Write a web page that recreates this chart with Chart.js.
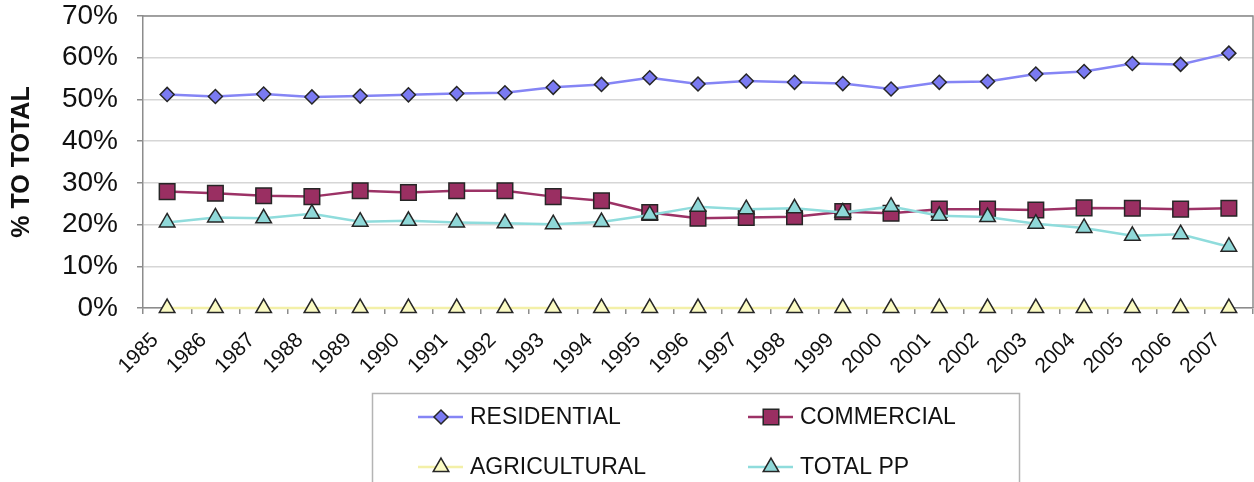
<!DOCTYPE html>
<html><head><meta charset="utf-8">
<script src="https://cdn.jsdelivr.net/npm/chart.js@4.4.1/dist/chart.umd.min.js"></script>
<style>html,body{margin:0;padding:0;background:#fff;overflow:hidden}#wrap{width:1254px;height:482px}</style>
</head><body><div id="wrap"><canvas id="c" width="1254" height="482"></canvas></div>
<script>
const years = ['1985','1986','1987','1988','1989','1990','1991','1992','1993','1994','1995','1996','1997','1998','1999','2000','2001','2002','2003','2004','2005','2006','2007'];
const residential = [51.2, 50.7, 51.3, 50.6, 50.8, 51.1, 51.4, 51.6, 52.9, 53.6, 55.2, 53.7, 54.4, 54.1, 53.8, 52.5, 54.1, 54.3, 56.1, 56.7, 58.6, 58.4, 61.1];
const commercial = [27.9, 27.5, 26.9, 26.7, 28.1, 27.7, 28.1, 28.1, 26.7, 25.7, 22.9, 21.5, 21.7, 21.9, 23.1, 22.7, 23.7, 23.7, 23.5, 24.0, 23.9, 23.7, 23.9];
const agricultural = [0, 0, 0, 0, 0, 0, 0, 0, 0, 0, 0, 0, 0, 0, 0, 0, 0, 0, 0, 0, 0, 0, 0];
const totalPP = [20.5, 21.7, 21.5, 22.6, 20.7, 20.9, 20.5, 20.3, 20.1, 20.6, 22.3, 24.3, 23.7, 23.9, 22.9, 24.3, 22.1, 21.8, 20.2, 19.2, 17.3, 17.7, 14.7];
const seriesNames = ['RESIDENTIAL', 'COMMERCIAL', 'AGRICULTURAL', 'TOTAL PP'];
const yAxisTitle = '% TO TOTAL';

const FONT = "'Liberation Sans', Arial, Helvetica, sans-serif";

const frame = {
  id: 'frame',
  beforeDatasetsDraw(chart) {
    const a = chart.chartArea, ctx = chart.ctx;
    ctx.save();
    ctx.strokeStyle = '#8c8c8c';
    ctx.lineWidth = 1.5;
    ctx.beginPath();
    ctx.moveTo(a.left, a.top);
    ctx.lineTo(a.right, a.top);
    ctx.lineTo(a.right, a.bottom);
    ctx.stroke();
    ctx.restore();
  }
};

function marker(ctx, ds, x, y) {
  ctx.save();
  ctx.fillStyle = ds.pointBackgroundColor;
  ctx.strokeStyle = ds.pointBorderColor;
  ctx.lineWidth = ds.pointBorderWidth;
  const opts = {pointStyle: ds.pointStyle, radius: ds.pointRadius, rotation: 0, borderWidth: ds.pointBorderWidth};
  if (Chart.helpers && Chart.helpers.drawPoint) {
    Chart.helpers.drawPoint(ctx, opts, x, y);
  } else {
    const r = ds.pointRadius;
    ctx.beginPath();
    if (ds.pointStyle === 'rectRot') { ctx.moveTo(x - r, y); ctx.lineTo(x, y - r); ctx.lineTo(x + r, y); ctx.lineTo(x, y + r); }
    else if (ds.pointStyle === 'rect') { const s = r * Math.SQRT1_2; ctx.rect(x - s, y - s, 2 * s, 2 * s); }
    else { ctx.moveTo(x, y - r); ctx.lineTo(x + r * 0.866, y + r / 2); ctx.lineTo(x - r * 0.866, y + r / 2); }
    ctx.closePath(); ctx.fill(); ctx.stroke();
  }
  ctx.restore();
}

const boxLegend = {
  id: 'boxLegend',
  afterDraw(chart) {
    const ctx = chart.ctx;
    ctx.save();
    ctx.strokeStyle = '#b4b4b4';
    ctx.lineWidth = 1.5;
    ctx.strokeRect(372.5, 393.5, 647, 110);
    const cols = [418, 748];
    const rows = [417, 467];
    chart.data.datasets.forEach((ds, i) => {
      const x0 = cols[i % 2], y = rows[Math.floor(i / 2)];
      ctx.strokeStyle = ds.borderColor;
      ctx.lineWidth = ds.borderWidth;
      ctx.beginPath(); ctx.moveTo(x0, y); ctx.lineTo(x0 + 45, y); ctx.stroke();
      marker(ctx, ds, x0 + 23, y);
      ctx.fillStyle = '#111';
      ctx.font = '23px ' + FONT;
      ctx.textAlign = 'left';
      ctx.textBaseline = 'middle';
      ctx.fillText(ds.label, x0 + 52, y + 1);
    });
    ctx.restore();
  }
};

function ds(label, data, line, fill, style, radius, order) {
  return {
    label, data, order,
    borderColor: line, borderWidth: 2.5,
    pointStyle: style, pointRadius: radius, pointHoverRadius: radius,
    pointBackgroundColor: fill, pointBorderColor: '#262626', pointBorderWidth: 1.5,
    tension: 0, fill: false, clip: false
  };
}

new Chart(document.getElementById('c'), {
  type: 'line',
  data: {
    labels: years,
    datasets: [
      ds(seriesNames[0], residential, '#8585f5', '#7a7af2', 'rectRot', 7, 1),
      ds(seriesNames[1], commercial, '#9c3266', '#9a2f62', 'rect', 11, 2),
      ds(seriesNames[2], agricultural, '#f3f0a8', '#fbfbc4', 'triangle', 9, 3),
      ds(seriesNames[3], totalPP, '#8fdcdc', '#8fd8d8', 'triangle', 9, 0)
    ]
  },
  options: {
    responsive: false,
    animation: false,
    layout: {autoPadding: false, padding: {top: 0, right: 1, left: 0, bottom: 0}},
    plugins: {legend: {display: false}, tooltip: {enabled: false}, title: {display: false}},
    scales: {
      x: {
        offset: true,
        afterFit(s) {
          s.height = 174; s.paddingLeft = 0; s.paddingRight = 0;
          s.getPadding = () => ({left: 0, top: 0, right: 0, bottom: 0});
        },
        grid: {display: true, drawOnChartArea: false, drawTicks: true, tickLength: 6, offset: true, tickColor: '#8c8c8c', lineWidth: 1.5},
        border: {color: '#8c8c8c', width: 1.5},
        ticks: {autoSkip: false, minRotation: 45, maxRotation: 45, padding: 14, labelOffset: -12, color: '#111', font: {family: FONT, size: 21}}
      },
      y: {
        min: 0, max: 70,
        afterFit(s) {
          s.width = 143; s.paddingTop = 16; s.paddingBottom = 0;
          s.getPadding = () => ({left: 0, top: 16, right: 0, bottom: 0});
        },
        grid: {color: '#d6d6d6', lineWidth: 1.5, tickLength: 6, tickColor: '#8c8c8c'},
        border: {color: '#8c8c8c', width: 1.5},
        ticks: {stepSize: 10, padding: 19, color: '#111', font: {family: FONT, size: 28, lineHeight: 1}, callback: v => v + '%'},
        title: {display: true, text: yAxisTitle, color: '#111', font: {family: FONT, size: 25, weight: 'bold'}, padding: {top: 7, bottom: 0}}
      }
    }
  },
  plugins: [frame, boxLegend]
});
</script>
</body></html>
